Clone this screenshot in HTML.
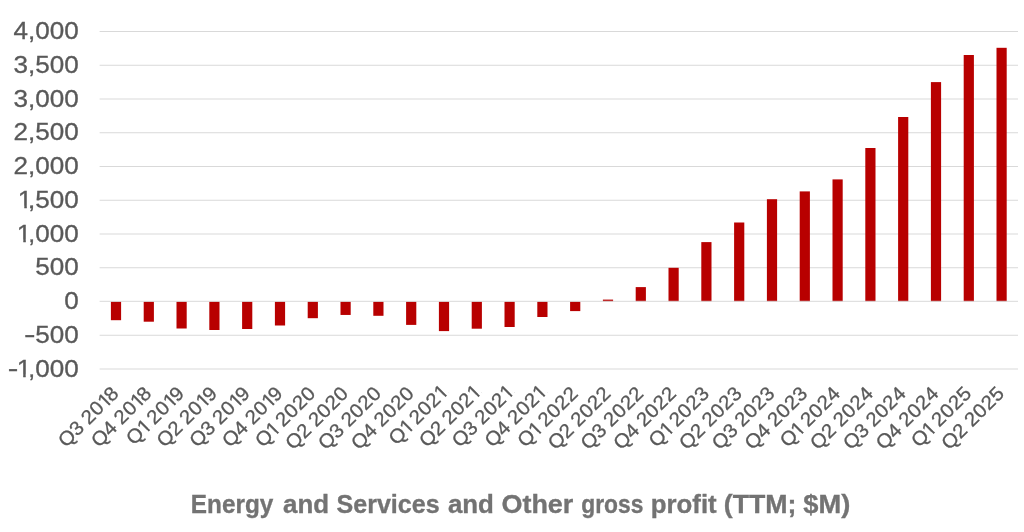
<!DOCTYPE html><html><head><meta charset="utf-8"><title>Energy and Services and Other gross profit</title><style>html,body{margin:0;padding:0;background:#fff;width:1024px;height:532px;overflow:hidden}svg{display:block;will-change:transform}.y{font-family:"Liberation Sans",Arial,sans-serif;font-size:23.2px;fill:#595959;stroke:#595959;stroke-width:0.3px}.x{font-family:"Liberation Sans",Arial,sans-serif;font-size:19.7px;white-space:pre;fill:#595959;stroke:#595959;stroke-width:0.3px}.t{font-family:"Liberation Sans",Arial,sans-serif;font-size:26px;font-weight:bold;fill:#737373;stroke:#737373;stroke-width:0.35px}</style></head><body>
<svg width="1024" height="532" viewBox="0 0 1024 532">
<rect width="1024" height="532" fill="#fff"/>
<rect x="99.60" y="31.00" width="918.40" height="1" fill="#d9d9d9"/>
<rect x="99.60" y="64.75" width="918.40" height="1" fill="#d9d9d9"/>
<rect x="99.60" y="98.50" width="918.40" height="1" fill="#d9d9d9"/>
<rect x="99.60" y="132.25" width="918.40" height="1" fill="#d9d9d9"/>
<rect x="99.60" y="166.00" width="918.40" height="1" fill="#d9d9d9"/>
<rect x="99.60" y="199.75" width="918.40" height="1" fill="#d9d9d9"/>
<rect x="99.60" y="233.50" width="918.40" height="1" fill="#d9d9d9"/>
<rect x="99.60" y="267.25" width="918.40" height="1" fill="#d9d9d9"/>
<rect x="99.60" y="334.75" width="918.40" height="1" fill="#d9d9d9"/>
<rect x="99.60" y="368.50" width="918.40" height="1" fill="#d9d9d9"/>
<text class="y" text-anchor="end" transform="translate(78.8 39.20) scale(1.124 1)">4,000</text>
<text class="y" text-anchor="end" transform="translate(78.8 72.95) scale(1.124 1)">3,500</text>
<text class="y" text-anchor="end" transform="translate(78.8 106.70) scale(1.124 1)">3,000</text>
<text class="y" text-anchor="end" transform="translate(78.8 140.45) scale(1.124 1)">2,500</text>
<text class="y" text-anchor="end" transform="translate(78.8 174.20) scale(1.124 1)">2,000</text>
<defs><clipPath id="y5" clipPathUnits="userSpaceOnUse"><path clip-rule="evenodd" d="M-200,-60H40V40H-200ZM-53.87,-2.3H-48.49V1.5H-53.87ZM-46.27,-2.3H-43.14V1.5H-46.27Z"/></clipPath></defs>
<text class="y" transform="translate(78.8 207.95) scale(1.124 1)" clip-path="url(#y5)"><tspan x="-54.27">1</tspan><tspan x="-45.15">,500</tspan></text>
<defs><clipPath id="y6" clipPathUnits="userSpaceOnUse"><path clip-rule="evenodd" d="M-200,-60H40V40H-200ZM-54.76,-2.3H-49.38V1.5H-54.76ZM-47.16,-2.3H-43.14V1.5H-47.16Z"/></clipPath></defs>
<text class="y" transform="translate(78.8 241.70) scale(1.124 1)" clip-path="url(#y6)"><tspan x="-55.16">1</tspan><tspan x="-45.15">,000</tspan></text>
<text class="y" text-anchor="end" transform="translate(78.8 275.45) scale(1.124 1)">500</text>
<text class="y" text-anchor="end" transform="translate(78.8 309.20) scale(1.124 1)">0</text>
<text class="y" transform="translate(78.8 342.95) scale(1.124 1)"><tspan x="-48.65" dy="-0.9" textLength="10.24" lengthAdjust="spacingAndGlyphs">-</tspan><tspan x="-38.71" dy="0.9">500</tspan></text>
<defs><clipPath id="y10" clipPathUnits="userSpaceOnUse"><path clip-rule="evenodd" d="M-200,-60H40V40H-200ZM-54.85,-2.3H-49.47V1.5H-54.85ZM-47.25,-2.3H-43.14V1.5H-47.25Z"/></clipPath></defs>
<text class="y" transform="translate(78.8 376.70) scale(1.124 1)" clip-path="url(#y10)"><tspan x="-63.22" dy="-0.9" textLength="9.39" lengthAdjust="spacingAndGlyphs">-</tspan><tspan x="-55.25" dy="0.9">1</tspan><tspan x="-45.15">,000</tspan></text>
<rect x="110.90" y="301.50" width="10.20" height="18.70" fill="#b80000"/>
<rect x="143.70" y="301.50" width="10.20" height="20.20" fill="#b80000"/>
<rect x="176.50" y="301.50" width="10.20" height="27.00" fill="#b80000"/>
<rect x="209.30" y="301.50" width="10.20" height="28.50" fill="#b80000"/>
<rect x="242.10" y="301.50" width="10.20" height="27.50" fill="#b80000"/>
<rect x="274.90" y="301.50" width="10.20" height="24.00" fill="#b80000"/>
<rect x="307.70" y="301.50" width="10.20" height="16.70" fill="#b80000"/>
<rect x="340.50" y="301.50" width="10.20" height="13.45" fill="#b80000"/>
<rect x="373.30" y="301.50" width="10.20" height="14.30" fill="#b80000"/>
<rect x="406.10" y="301.50" width="10.20" height="23.40" fill="#b80000"/>
<rect x="438.90" y="301.50" width="10.20" height="29.60" fill="#b80000"/>
<rect x="471.70" y="301.50" width="10.20" height="27.20" fill="#b80000"/>
<rect x="504.50" y="301.50" width="10.20" height="25.50" fill="#b80000"/>
<rect x="537.30" y="301.50" width="10.20" height="15.50" fill="#b80000"/>
<rect x="570.10" y="301.50" width="10.20" height="9.60" fill="#b80000"/>
<rect x="602.90" y="299.60" width="10.20" height="1.90" fill="#b80000"/>
<rect x="635.70" y="287.10" width="10.20" height="14.40" fill="#b80000"/>
<rect x="668.50" y="267.80" width="10.20" height="33.70" fill="#b80000"/>
<rect x="701.30" y="242.10" width="10.20" height="59.40" fill="#b80000"/>
<rect x="734.10" y="222.50" width="10.20" height="79.00" fill="#b80000"/>
<rect x="766.90" y="199.20" width="10.20" height="102.30" fill="#b80000"/>
<rect x="799.70" y="191.40" width="10.20" height="110.10" fill="#b80000"/>
<rect x="832.50" y="179.40" width="10.20" height="122.10" fill="#b80000"/>
<rect x="865.30" y="148.00" width="10.20" height="153.50" fill="#b80000"/>
<rect x="898.10" y="117.00" width="10.20" height="184.50" fill="#b80000"/>
<rect x="930.90" y="82.10" width="10.20" height="219.40" fill="#b80000"/>
<rect x="963.70" y="55.00" width="10.20" height="246.50" fill="#b80000"/>
<rect x="996.50" y="47.80" width="10.20" height="253.70" fill="#b80000"/>
<rect x="99.60" y="300.80" width="918.40" height="1" fill="#d9d9d9"/>
<text class="x" x="-73.29 -58.02 -47.40 -42.26 -30.81 -19.79 -11.20" y="0" transform="translate(120.00 394.40) rotate(-45) scale(1.04 1)" clip-path="url(#k0)">Q3 2018</text>
<text class="x" x="-73.29 -58.02 -47.40 -42.26 -30.81 -19.79 -11.20" y="0" transform="translate(152.80 394.40) rotate(-45) scale(1.04 1)" clip-path="url(#k1)">Q4 2018</text>
<text class="x" x="-70.02 -55.18 -47.40 -42.26 -30.81 -19.79 -11.20" y="0" transform="translate(185.60 394.40) rotate(-45) scale(1.04 1)" clip-path="url(#k2)">Q1 2019</text>
<text class="x" x="-73.29 -58.02 -47.40 -42.26 -30.81 -19.79 -11.20" y="0" transform="translate(218.40 394.40) rotate(-45) scale(1.04 1)" clip-path="url(#k3)">Q2 2019</text>
<text class="x" x="-73.29 -58.02 -47.40 -42.26 -30.81 -19.79 -11.20" y="0" transform="translate(251.20 394.40) rotate(-45) scale(1.04 1)" clip-path="url(#k4)">Q3 2019</text>
<text class="x" x="-73.29 -58.02 -47.40 -42.26 -30.81 -19.79 -11.20" y="0" transform="translate(284.00 394.40) rotate(-45) scale(1.04 1)" clip-path="url(#k5)">Q4 2019</text>
<text class="x" x="-73.29 -58.45 -50.67 -45.52 -34.08 -22.64 -11.20" y="0" transform="translate(316.80 394.40) rotate(-45) scale(1.04 1)" clip-path="url(#k6)">Q1 2020</text>
<text class="x" x="-76.56 -61.29 -50.67 -45.52 -34.08 -22.64 -11.20" y="0" transform="translate(349.60 394.40) rotate(-45) scale(1.04 1)">Q2 2020</text>
<text class="x" x="-76.56 -61.29 -50.67 -45.52 -34.08 -22.64 -11.20" y="0" transform="translate(382.40 394.40) rotate(-45) scale(1.04 1)">Q3 2020</text>
<text class="x" x="-76.56 -61.29 -50.67 -45.52 -34.08 -22.64 -11.20" y="0" transform="translate(415.20 394.40) rotate(-45) scale(1.04 1)">Q4 2020</text>
<text class="x" x="-70.02 -55.18 -47.40 -42.26 -30.81 -19.37 -8.35" y="0" transform="translate(448.00 394.40) rotate(-45) scale(1.04 1)" clip-path="url(#k10)">Q1 2021</text>
<text class="x" x="-73.29 -58.02 -47.40 -42.26 -30.81 -19.37 -8.35" y="0" transform="translate(480.80 394.40) rotate(-45) scale(1.04 1)" clip-path="url(#k11)">Q2 2021</text>
<text class="x" x="-73.29 -58.02 -47.40 -42.26 -30.81 -19.37 -8.35" y="0" transform="translate(513.60 394.40) rotate(-45) scale(1.04 1)" clip-path="url(#k12)">Q3 2021</text>
<text class="x" x="-73.29 -58.02 -47.40 -42.26 -30.81 -19.37 -8.35" y="0" transform="translate(546.40 394.40) rotate(-45) scale(1.04 1)" clip-path="url(#k13)">Q4 2021</text>
<text class="x" x="-73.29 -58.45 -50.67 -45.52 -34.08 -22.64 -11.20" y="0" transform="translate(579.20 394.40) rotate(-45) scale(1.04 1)" clip-path="url(#k14)">Q1 2022</text>
<text class="x" x="-76.56 -61.29 -50.67 -45.52 -34.08 -22.64 -11.20" y="0" transform="translate(612.00 394.40) rotate(-45) scale(1.04 1)">Q2 2022</text>
<text class="x" x="-76.56 -61.29 -50.67 -45.52 -34.08 -22.64 -11.20" y="0" transform="translate(644.80 394.40) rotate(-45) scale(1.04 1)">Q3 2022</text>
<text class="x" x="-76.56 -61.29 -50.67 -45.52 -34.08 -22.64 -11.20" y="0" transform="translate(677.60 394.40) rotate(-45) scale(1.04 1)">Q4 2022</text>
<text class="x" x="-73.29 -58.45 -50.67 -45.52 -34.08 -22.64 -11.20" y="0" transform="translate(710.40 394.40) rotate(-45) scale(1.04 1)" clip-path="url(#k18)">Q1 2023</text>
<text class="x" x="-76.56 -61.29 -50.67 -45.52 -34.08 -22.64 -11.20" y="0" transform="translate(743.20 394.40) rotate(-45) scale(1.04 1)">Q2 2023</text>
<text class="x" x="-76.56 -61.29 -50.67 -45.52 -34.08 -22.64 -11.20" y="0" transform="translate(776.00 394.40) rotate(-45) scale(1.04 1)">Q3 2023</text>
<text class="x" x="-76.56 -61.29 -50.67 -45.52 -34.08 -22.64 -11.20" y="0" transform="translate(808.80 394.40) rotate(-45) scale(1.04 1)">Q4 2023</text>
<text class="x" x="-73.29 -58.45 -50.67 -45.52 -34.08 -22.64 -11.20" y="0" transform="translate(841.60 394.40) rotate(-45) scale(1.04 1)" clip-path="url(#k22)">Q1 2024</text>
<text class="x" x="-76.56 -61.29 -50.67 -45.52 -34.08 -22.64 -11.20" y="0" transform="translate(874.40 394.40) rotate(-45) scale(1.04 1)">Q2 2024</text>
<text class="x" x="-76.56 -61.29 -50.67 -45.52 -34.08 -22.64 -11.20" y="0" transform="translate(907.20 394.40) rotate(-45) scale(1.04 1)">Q3 2024</text>
<text class="x" x="-76.56 -61.29 -50.67 -45.52 -34.08 -22.64 -11.20" y="0" transform="translate(940.00 394.40) rotate(-45) scale(1.04 1)">Q4 2024</text>
<text class="x" x="-73.29 -58.45 -50.67 -45.52 -34.08 -22.64 -11.20" y="0" transform="translate(972.80 394.40) rotate(-45) scale(1.04 1)" clip-path="url(#k26)">Q1 2025</text>
<text class="x" x="-76.56 -61.29 -50.67 -45.52 -34.08 -22.64 -11.20" y="0" transform="translate(1005.60 394.40) rotate(-45) scale(1.04 1)">Q2 2025</text>
<defs><clipPath id="k0" clipPathUnits="userSpaceOnUse"><path clip-rule="evenodd" d="M-200,-60H40V40H-200ZM-19.30,-2.4H-14.89V2H-19.30ZM-13.00,-2.4H-9.84V2H-13.00Z"/></clipPath><clipPath id="k1" clipPathUnits="userSpaceOnUse"><path clip-rule="evenodd" d="M-200,-60H40V40H-200ZM-19.30,-2.4H-14.89V2H-19.30ZM-13.00,-2.4H-9.84V2H-13.00Z"/></clipPath><clipPath id="k2" clipPathUnits="userSpaceOnUse"><path clip-rule="evenodd" d="M-200,-60H40V40H-200ZM-54.69,-2.4H-50.27V2H-54.69ZM-48.38,-2.4H-44.74V2H-48.38ZM-19.30,-2.4H-14.89V2H-19.30ZM-13.00,-2.4H-9.84V2H-13.00Z"/></clipPath><clipPath id="k3" clipPathUnits="userSpaceOnUse"><path clip-rule="evenodd" d="M-200,-60H40V40H-200ZM-19.30,-2.4H-14.89V2H-19.30ZM-13.00,-2.4H-9.84V2H-13.00Z"/></clipPath><clipPath id="k4" clipPathUnits="userSpaceOnUse"><path clip-rule="evenodd" d="M-200,-60H40V40H-200ZM-19.30,-2.4H-14.89V2H-19.30ZM-13.00,-2.4H-9.84V2H-13.00Z"/></clipPath><clipPath id="k5" clipPathUnits="userSpaceOnUse"><path clip-rule="evenodd" d="M-200,-60H40V40H-200ZM-19.30,-2.4H-14.89V2H-19.30ZM-13.00,-2.4H-9.84V2H-13.00Z"/></clipPath><clipPath id="k6" clipPathUnits="userSpaceOnUse"><path clip-rule="evenodd" d="M-200,-60H40V40H-200ZM-57.96,-2.4H-53.54V2H-57.96ZM-51.65,-2.4H-48.01V2H-51.65Z"/></clipPath><clipPath id="k10" clipPathUnits="userSpaceOnUse"><path clip-rule="evenodd" d="M-200,-60H40V40H-200ZM-54.69,-2.4H-50.27V2H-54.69ZM-48.38,-2.4H-44.74V2H-48.38ZM-7.86,-2.4H-3.45V2H-7.86ZM-1.56,-2.4H2.09V2H-1.56Z"/></clipPath><clipPath id="k11" clipPathUnits="userSpaceOnUse"><path clip-rule="evenodd" d="M-200,-60H40V40H-200ZM-7.86,-2.4H-3.45V2H-7.86ZM-1.56,-2.4H2.09V2H-1.56Z"/></clipPath><clipPath id="k12" clipPathUnits="userSpaceOnUse"><path clip-rule="evenodd" d="M-200,-60H40V40H-200ZM-7.86,-2.4H-3.45V2H-7.86ZM-1.56,-2.4H2.09V2H-1.56Z"/></clipPath><clipPath id="k13" clipPathUnits="userSpaceOnUse"><path clip-rule="evenodd" d="M-200,-60H40V40H-200ZM-7.86,-2.4H-3.45V2H-7.86ZM-1.56,-2.4H2.09V2H-1.56Z"/></clipPath><clipPath id="k14" clipPathUnits="userSpaceOnUse"><path clip-rule="evenodd" d="M-200,-60H40V40H-200ZM-57.96,-2.4H-53.54V2H-57.96ZM-51.65,-2.4H-48.01V2H-51.65Z"/></clipPath><clipPath id="k18" clipPathUnits="userSpaceOnUse"><path clip-rule="evenodd" d="M-200,-60H40V40H-200ZM-57.96,-2.4H-53.54V2H-57.96ZM-51.65,-2.4H-48.01V2H-51.65Z"/></clipPath><clipPath id="k22" clipPathUnits="userSpaceOnUse"><path clip-rule="evenodd" d="M-200,-60H40V40H-200ZM-57.96,-2.4H-53.54V2H-57.96ZM-51.65,-2.4H-48.01V2H-51.65Z"/></clipPath><clipPath id="k26" clipPathUnits="userSpaceOnUse"><path clip-rule="evenodd" d="M-200,-60H40V40H-200ZM-57.96,-2.4H-53.54V2H-57.96ZM-51.65,-2.4H-48.01V2H-51.65Z"/></clipPath></defs>
<text class="t" y="512.7"><tspan x="190.86" textLength="82.48" lengthAdjust="spacingAndGlyphs">Energy</tspan> <tspan x="283.10" textLength="46.03" lengthAdjust="spacingAndGlyphs">and</tspan> <tspan x="336.54" textLength="103.11" lengthAdjust="spacingAndGlyphs">Services</tspan> <tspan x="447.90" textLength="46.03" lengthAdjust="spacingAndGlyphs">and</tspan> <tspan x="501.46" textLength="71.89" lengthAdjust="spacingAndGlyphs">Other</tspan> <tspan x="581.22" textLength="62.19" lengthAdjust="spacingAndGlyphs">gross</tspan> <tspan x="650.81" textLength="65.91" lengthAdjust="spacingAndGlyphs">profit</tspan> <tspan x="723.87" textLength="72.62" lengthAdjust="spacingAndGlyphs">(TTM;</tspan> <tspan x="803.30" textLength="47.02" lengthAdjust="spacingAndGlyphs">$M)</tspan></text>
</svg></body></html>
